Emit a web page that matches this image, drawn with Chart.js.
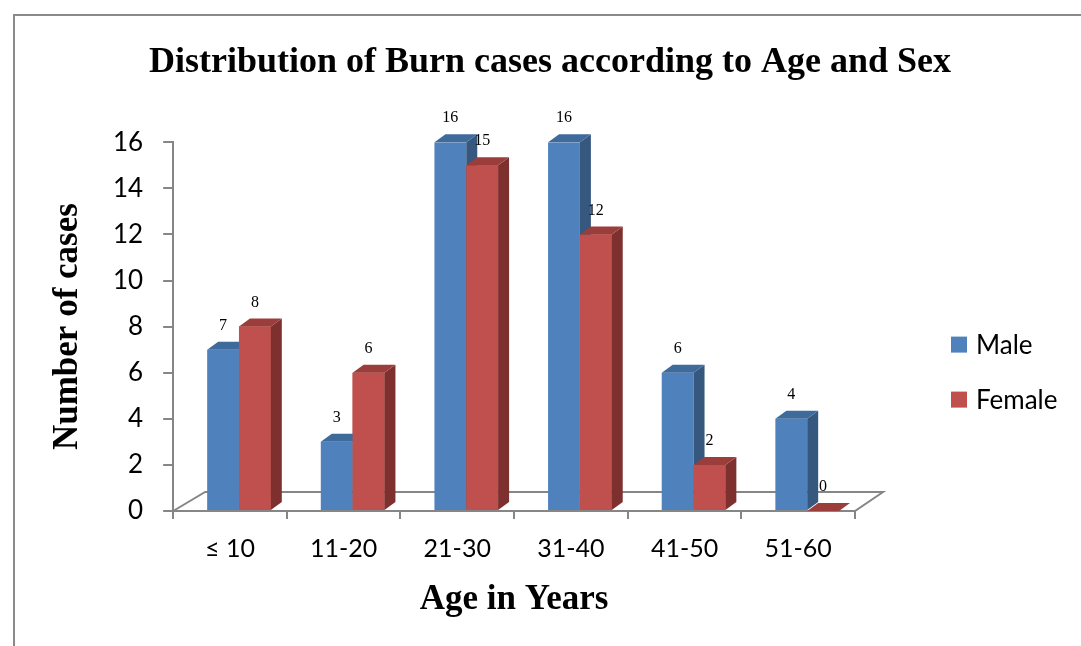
<!DOCTYPE html>
<html>
<head>
<meta charset="utf-8">
<script src="https://cdn.jsdelivr.net/npm/chart.js@4.4.1/dist/chart.umd.min.js"></script>
<style>
  body { margin: 0; background: #fff; overflow: hidden; }
  #frame { position: absolute; left: 13px; top: 14px; width: 1100px; height: 700px; border: 2px solid #8a8a8a; }
  canvas { position: absolute; left: 0; top: 0; }
</style>
</head>
<body>
<div id="frame"></div>
<canvas id="myChart" width="1081" height="646"></canvas>
<script>
// data
const categories = ['≤ 10', '11-20', '21-30', '31-40', '41-50', '51-60'];
const maleCases = [7, 3, 16, 16, 6, 4];
const femaleCases = [8, 6, 15, 12, 2, 0];
const seriesNames = ['Male', 'Female'];

// look of the fake 3D bars
const depthX = 11;
const depthY = -8;
const shiftX = 9;
const serif = "'Liberation Serif', 'Times New Roman', serif";
const sans = "Lato, 'Open Sans', sans-serif";
const axisGrey = '#868686';

const faces = {
  Male: { front: '#4F81BD', side: '#36587F', top: '#3F6A9C' },
  Female: { front: '#C0504D', side: '#7D302E', top: '#9B3E3B' },
};

function poly(ctx, pts, fill) {
  ctx.beginPath();
  ctx.moveTo(pts[0][0], pts[0][1]);
  for (let i = 1; i < pts.length; i++) ctx.lineTo(pts[i][0], pts[i][1]);
  ctx.closePath();
  ctx.fillStyle = fill;
  ctx.fill();
}

const bar3d = {
  id: 'bar3d',
  afterDatasetsUpdate(chart) {
    // bars sit half way into the floor depth, so nudge them right
    chart.data.datasets.forEach((ds, i) => {
      chart.getDatasetMeta(i).data.forEach(el => { el.x += shiftX; });
    });
  },
  beforeDatasetsDraw(chart) {
    const ctx = chart.ctx;
    const a = chart.chartArea;
    const b = a.bottom;
    ctx.save();
    ctx.beginPath();
    ctx.moveTo(a.left, b);
    ctx.lineTo(a.left + 32, b - 19);
    ctx.lineTo(a.right + 28, b - 19);
    ctx.lineTo(a.right, b);
    ctx.closePath();
    ctx.fillStyle = '#fff';
    ctx.fill();
    ctx.strokeStyle = axisGrey;
    ctx.lineWidth = 2;
    ctx.stroke();
    ctx.restore();
  },
  afterDatasetsDraw(chart) {
    // per category: left bar sides, then right bar front over them, then its sides
    const ctx = chart.ctx;
    ctx.save();
    categories.forEach((c, j) => {
      chart.data.datasets.forEach((ds, i) => {
        const el = chart.getDatasetMeta(i).data[j];
        const f = faces[ds.label];
        if (i > 0) el.draw(ctx);
        const { x, y, base, width } = el.getProps(['x', 'y', 'base', 'width'], true);
        const l = x - width / 2, r = x + width / 2;
        poly(ctx, [[r, y], [r + depthX, y + depthY], [r + depthX, base + depthY], [r, base]], f.side);
        poly(ctx, [[l, y], [l + depthX, y + depthY], [r + depthX, y + depthY], [r, y]], f.top);
      });
    });
    ctx.restore();
  },
  afterDraw(chart) {
    const ctx = chart.ctx;
    const a = chart.chartArea;
    ctx.save();
    // value labels
    ctx.font = '16px ' + serif;
    ctx.fillStyle = '#000';
    ctx.textAlign = 'center';
    ctx.textBaseline = 'middle';
    chart.data.datasets.forEach((ds, i) => {
      chart.getDatasetMeta(i).data.forEach((el, j) => {
        ctx.fillText(String(ds.data[j]), el.x, el.y - 24);
      });
    });
    // legend
    const lx = a.right + 96;
    const midY = (a.top + a.bottom) / 2;
    ctx.font = '26px ' + sans;
    ctx.textAlign = 'left';
    chart.data.datasets.forEach((ds, i) => {
      const cy = midY + 18 + i * 55;
      ctx.fillStyle = ds.backgroundColor;
      ctx.fillRect(lx, cy - 8, 16, 16);
      ctx.fillStyle = '#000';
      ctx.fillText(ds.label, lx + 25, cy + 1);
    });
    ctx.restore();
  }
};

const ctx = document.getElementById('myChart').getContext('2d');

const chart = new Chart(ctx, {
  type: 'bar',
  data: {
    labels: categories,
    datasets: [
      { label: seriesNames[0], data: maleCases, backgroundColor: faces.Male.front },
      { label: seriesNames[1], data: femaleCases, backgroundColor: faces.Female.front },
    ],
  },
  options: {
    responsive: false,
    animation: false,
    categoryPercentage: 0.56,
    barPercentage: 1.0,
    layout: { padding: { left: 19, right: 0, top: 0, bottom: 0 } },
    plugins: {
      legend: { display: false },
      tooltip: { enabled: false },
      title: {
        display: true,
        text: 'Distribution of Burn cases according to Age and Sex',
        color: '#000',
        font: { family: serif, size: 36, weight: 'bold' },
        padding: { top: 41, bottom: 58 },
      },
    },
    scales: {
      x: {
        grid: { display: true, drawOnChartArea: false, tickLength: 8, color: axisGrey, lineWidth: 2 },
        border: { color: axisGrey, width: 2 },
        ticks: { color: '#000', font: { family: sans, size: 25 }, padding: 15 },
        title: {
          display: true,
          text: 'Age in Years',
          color: '#000',
          font: { family: serif, size: 35, weight: 'bold' },
          padding: { top: 0, bottom: 25 },
        },
      },
      y: {
        min: 0,
        max: 16,
        grid: { display: true, drawOnChartArea: false, tickLength: 10, color: axisGrey, lineWidth: 2 },
        border: { color: axisGrey, width: 2 },
        ticks: { stepSize: 2, color: '#000', font: { family: sans, size: 26 }, padding: 20 },
        title: {
          display: true,
          text: 'Number of cases',
          color: '#000',
          font: { family: serif, size: 35, weight: 'bold' },
          padding: { top: 28, bottom: 4 },
        },
      },
      yPad: {
        position: 'right',
        display: true,
        grid: { display: false },
        border: { display: false },
        ticks: { display: false },
        afterFit(scale) { scale.width = 226; },
      },
    },
  },
  plugins: [bar3d],
});
</script>
</body>
</html>
